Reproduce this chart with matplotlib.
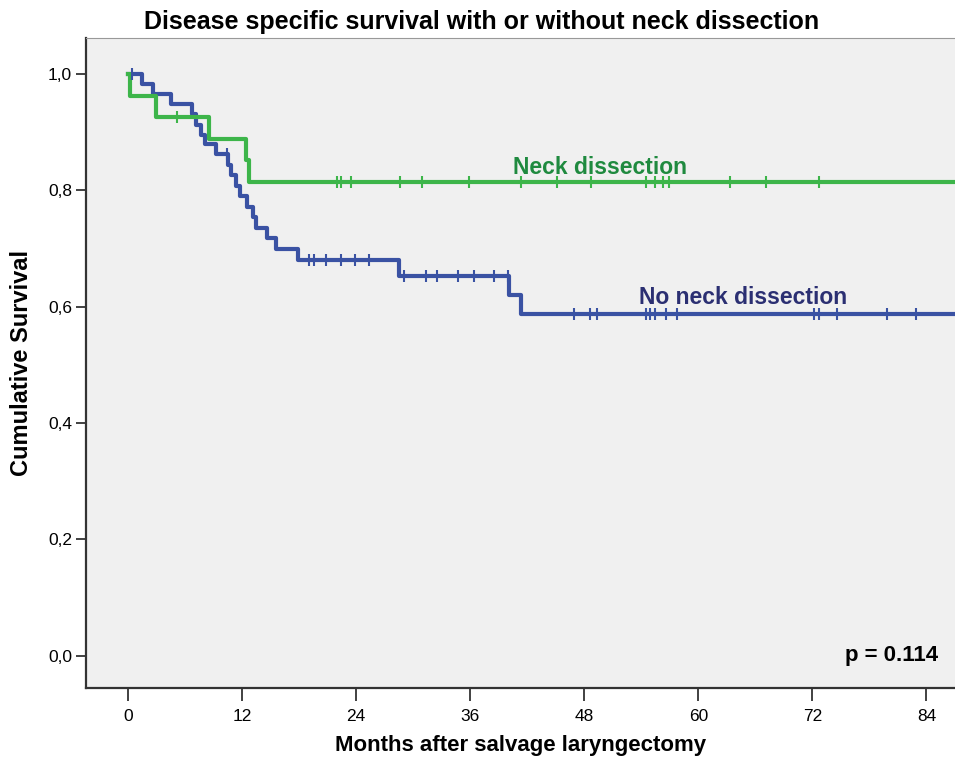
import numpy as np
import matplotlib
matplotlib.use("Agg")
import matplotlib.pyplot as plt

plt.rcParams['font.family'] = ['Liberation Sans', 'DejaVu Sans']

# neck dissection group (step times in months, survival after each step)
nd_times = [0, 0.2, 3.0, 8.5, 12.4, 12.8]
nd_surv = [1.0, 0.963, 0.926, 0.889, 0.852, 0.815]
nd_censor = [5.2, 22.0, 22.4, 23.5, 28.6, 30.9, 35.9, 41.4, 45.1, 48.7,
             54.5, 55.5, 56.3, 56.9, 63.3, 67.1, 72.7]

# no neck dissection group
nnd_times = [0, 1.5, 2.7, 4.5, 6.8, 7.2, 7.7, 8.1, 9.3, 10.5, 10.9, 11.4,
             11.8, 12.5, 13.2, 13.5, 14.6, 15.6, 17.9, 28.5, 40.1, 41.4]
nnd_surv = [1.0, 0.983, 0.966, 0.948, 0.931, 0.913, 0.896, 0.879, 0.862,
            0.844, 0.826, 0.808, 0.790, 0.772, 0.754, 0.736, 0.718, 0.699,
            0.680, 0.653, 0.621, 0.588]
nnd_censor = [0.4, 10.4, 19.1, 19.6, 20.8, 22.4, 23.9, 25.4, 29.1, 31.4,
              32.5, 34.7, 36.4, 38.5, 40.0, 46.9, 48.6, 49.3, 54.5, 54.9,
              55.5, 56.6, 57.8, 72.2, 72.7, 74.6, 79.9, 82.9]

x_ticks = [0, 12, 24, 36, 48, 60, 72, 84]
y_ticks = [0.0, 0.2, 0.4, 0.6, 0.8, 1.0]
y_labels = ["0,0", "0,2", "0,4", "0,6", "0,8", "1,0"]

green = "#3db54a"
blue = "#3a52a3"
x_end = 90


def step_value(times, surv, t):
    i = np.searchsorted(times, t, side="right") - 1
    return np.asarray(surv)[i]


fig = plt.figure(figsize=(9.55, 7.6), dpi=100)
ax = fig.add_axes([0.09, 0.095, 0.91, 0.855])
ax.set_facecolor("#f0f0f0")

for times, surv, cens, col in [(nnd_times, nnd_surv, nnd_censor, blue),
                               (nd_times, nd_surv, nd_censor, green)]:
    tt = list(times) + [x_end]
    ss = list(surv) + [surv[-1]]
    ax.step(tt, ss, where="post", color=col, lw=3, zorder=3)
    ax.plot(cens, step_value(times, surv, cens), ls="none", marker="|",
            ms=9, mew=1.5, color=col, zorder=4)

ax.text(49.7, 0.84, "Neck dissection", color="#1f8a3f", fontsize=16.5,
        fontweight="bold", ha="center", va="center")
ax.text(64.7, 0.616, "No neck dissection", color="#2b2f72", fontsize=16.5,
        fontweight="bold", ha="center", va="center")
ax.text(85.2, 0.0, "p = 0.114", color="black", fontsize=16,
        fontweight="bold", ha="right", va="center")

ax.set_xlim(-4.4, 87.0)
ax.set_ylim(-0.055, 1.062)
ax.set_xticks(x_ticks)
ax.set_yticks(y_ticks)
ax.set_yticklabels(y_labels)
ax.tick_params(axis="both", direction="out", length=9, width=1.3,
               labelsize=12.5, color="#333333")
ax.tick_params(axis="x", pad=6)
ax.tick_params(axis="y", length=7, pad=3)

for s in ["left", "bottom"]:
    ax.spines[s].set_linewidth(1.6)
    ax.spines[s].set_color("#333333")
ax.spines["top"].set_color("#999999")
ax.spines["right"].set_visible(False)

ax.set_xlabel("Months after salvage laryngectomy", fontsize=16,
              fontweight="bold", labelpad=8)
ax.set_ylabel("Cumulative Survival", fontsize=17, fontweight="bold",
              labelpad=11)
fig.text(0.504, 0.971, "Disease specific survival with or without neck dissection",
         fontsize=18, fontweight="bold", ha="center", va="center")

fig.savefig("out.png", dpi=100)
